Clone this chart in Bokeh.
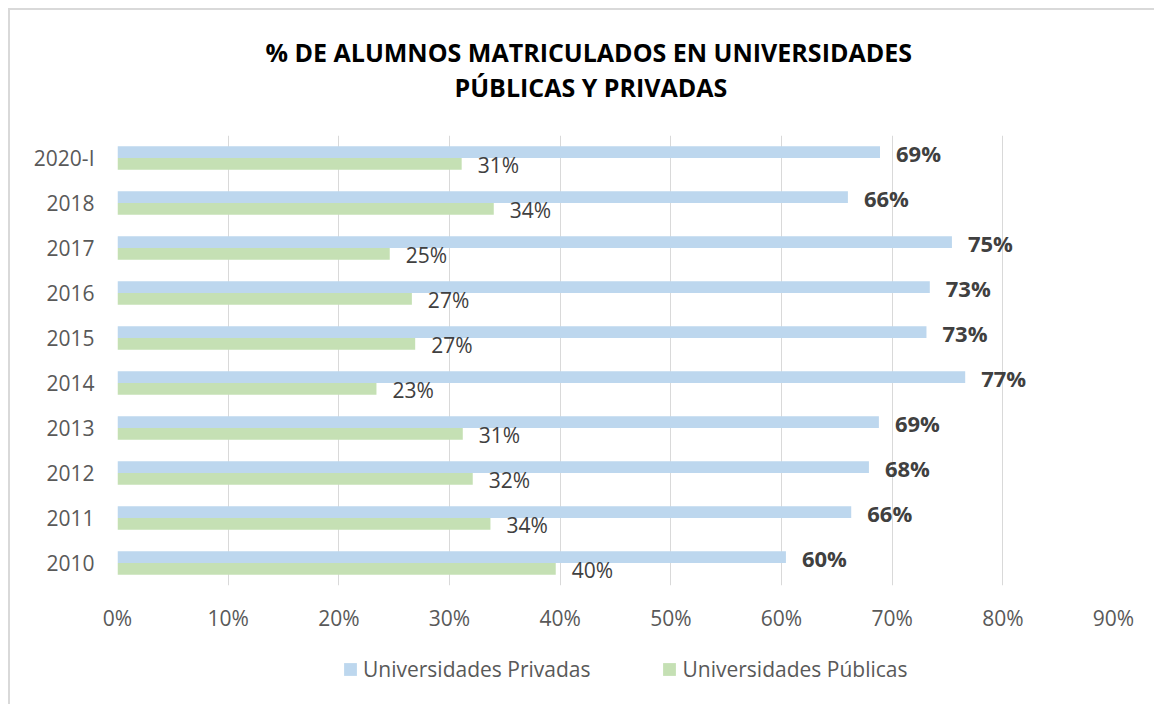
from bokeh.plotting import figure
from bokeh.layouts import column
from bokeh.models import (FactorRange, Range1d, FixedTicker, PrintfTickFormatter,
                          ColumnDataSource, Legend, LegendItem, Title)
from bokeh.transform import dodge
from bokeh.core.properties import value
from bokeh.embed import file_html
from bokeh.resources import INLINE

# ---- data (percent) ----
years = ["2010", "2011", "2012", "2013", "2014", "2015", "2016", "2017", "2018", "2020-I"]
privadas = [60.4, 66.3, 67.9, 68.8, 76.6, 73.1, 73.4, 75.4, 66.0, 68.9]
publicas = [39.6, 33.7, 32.1, 31.2, 23.4, 26.9, 26.6, 24.6, 34.0, 31.1]
x_ticks = [0, 10, 20, 30, 40, 50, 60, 70, 80, 90]
series_names = ["Universidades Privadas", "Universidades Públicas"]
title_lines = ["% DE ALUMNOS MATRICULADOS EN UNIVERSIDADES", "PÚBLICAS Y PRIVADAS"]

FONT = "Open Sans"
C_PRIV = "#BDD7EE"
C_PUB = "#C5E0B4"
C_BORDER = "#D9D9D9"
W = 1154

src = ColumnDataSource(dict(
    year=years,
    priv=privadas,
    pub=publicas,
    priv_lbl=[f"{round(v)}%" for v in privadas],
    pub_lbl=[f"{round(v)}%" for v in publicas],
))

p = figure(width=W, height=640, frame_width=996, frame_height=450,
           y_range=FactorRange(factors=years, range_padding=0),
           x_range=Range1d(0, 90),
           output_backend="svg", toolbar_location=None,
           min_border_left=117, min_border_right=41,
           min_border_top=135, min_border_bottom=55)
p.outline_line_color = None
p.background_fill_color = None
p.border_fill_color = None
p.styles = {
    "background-color": "white",
    "background-image": f"linear-gradient({C_BORDER}, {C_BORDER}), linear-gradient({C_BORDER}, {C_BORDER})",
    "background-size": "2px 100%, 100% 2px",
    "background-position": "8px 8px, 8px 8px",
    "background-repeat": "no-repeat",
}

r_priv = p.hbar(y=dodge("year", 0.13, range=p.y_range), left=0, right="priv", height=0.26,
                fill_color=C_PRIV, line_color=None, source=src)
r_pub = p.hbar(y=dodge("year", -0.13, range=p.y_range), left=0, right="pub", height=0.26,
               fill_color=C_PUB, line_color=None, source=src)

p.text(x="priv", y=dodge("year", 0.13, range=p.y_range), text="priv_lbl",
       x_offset=16, y_offset=1, text_font=value(FONT), text_font_style="bold",
       text_font_size="22px", text_color="#404040", text_baseline="middle",
       text_align="left", source=src)
p.text(x="pub", y=dodge("year", -0.13, range=p.y_range), text="pub_lbl",
       x_offset=16, y_offset=1, text_font=value(FONT), text_font_style="normal",
       text_font_size="21px", text_color="#404040", text_baseline="middle",
       text_align="left", source=src)

# axes
p.xaxis.ticker = FixedTicker(ticks=x_ticks)
p.xaxis.formatter = PrintfTickFormatter(format="%d%%")
for ax in (p.xaxis[0], p.yaxis[0]):
    ax.axis_line_color = None
    ax.major_tick_line_color = None
    ax.minor_tick_line_color = None
    ax.major_tick_out = 0
    ax.major_tick_in = 0
    ax.major_label_text_font = FONT
    ax.major_label_text_font_size = "21px"
    ax.major_label_text_color = "#595959"
p.xaxis.major_label_standoff = 18
p.yaxis.major_label_standoff = 23
p.ygrid.grid_line_color = None
p.xgrid.grid_line_color = C_BORDER
p.xgrid.grid_line_width = 1

# title: first added is nearest to the plot
p.add_layout(Title(text=title_lines[1], align="left", offset=337, standoff=63,
                   text_font=FONT, text_font_style="bold", text_font_size="25px",
                   text_color="#000000"), "above")
p.add_layout(Title(text=title_lines[0], align="left", offset=148, standoff=-65,
                   text_font=FONT, text_font_style="bold", text_font_size="25px",
                   text_color="#000000"), "above")

# legend strip below the chart (its frame is aligned with the chart's frame)
leg = figure(width=W, height=64, x_range=Range1d(0, 90), y_range=Range1d(0, 64),
             x_axis_type=None, y_axis_type=None, output_backend="svg",
             toolbar_location=None, min_border=0)
leg.outline_line_color = None
leg.background_fill_color = None
leg.border_fill_color = None
leg.styles = {
    "background-color": "white",
    "background-image": f"linear-gradient({C_BORDER}, {C_BORDER})",
    "background-size": "2px 100%",
    "background-position": "8px 0px",
    "background-repeat": "no-repeat",
}
# swatch-only renderers (kept outside the visible range)
swatch = ColumnDataSource(dict(y=[-1000], left=[0], right=[0]))
lr1 = leg.hbar(y="y", left="left", right="right", height=1, fill_color=C_PRIV,
               line_color=None, source=swatch)
lr2 = leg.hbar(y="y", left="left", right="right", height=1, fill_color=C_PUB,
               line_color=None, source=swatch)
legend = Legend(items=[LegendItem(label=series_names[0], renderers=[lr1]),
                       LegendItem(label=series_names[1], renderers=[lr2])],
                orientation="horizontal", location=(225, 21),
                label_text_font=FONT, label_text_font_size="21px",
                label_text_color="#595959", glyph_width=16, glyph_height=16,
                label_standoff=5, spacing=71, padding=0, margin=0,
                border_line_color=None, background_fill_alpha=0)
leg.add_layout(legend)

layout = column(p, leg, spacing=0)
open("out.html", "w").write(file_html(layout, INLINE))
